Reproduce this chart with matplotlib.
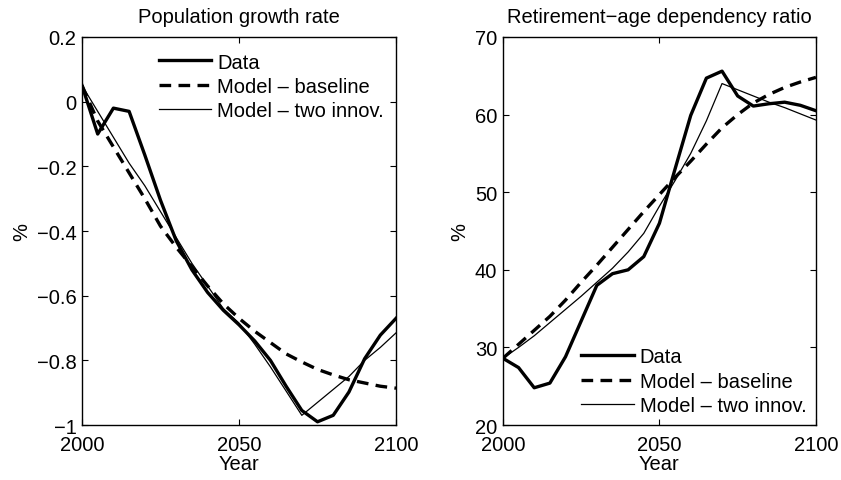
import matplotlib
matplotlib.use("Agg")
import matplotlib.pyplot as plt

plt.rcParams['font.family'] = ['Liberation Sans', 'DejaVu Sans']

years = [2000, 2005, 2010, 2015, 2020, 2025, 2030, 2035, 2040, 2045, 2050,
         2055, 2060, 2065, 2070, 2075, 2080, 2085, 2090, 2095, 2100]

# Population growth rate (%)
pop_data = [0.05, -0.10, -0.02, -0.03, -0.165, -0.305, -0.43, -0.52, -0.59, -0.645, -0.69,
            -0.74, -0.80, -0.88, -0.955, -0.99, -0.97, -0.898, -0.795, -0.722, -0.67]
pop_base = [0.05, -0.06, -0.14, -0.22, -0.30, -0.385, -0.45, -0.51, -0.57, -0.625, -0.67,
            -0.71, -0.745, -0.78, -0.805, -0.828, -0.845, -0.86, -0.87, -0.88, -0.886]
pop_two = [0.05, -0.03, -0.11, -0.19, -0.26, -0.34, -0.42, -0.50, -0.57, -0.64, -0.685,
           -0.75, -0.82, -0.895, -0.97, -0.93, -0.89, -0.85, -0.80, -0.76, -0.715]

# Retirement-age dependency ratio (%)
dep_data = [28.6, 27.4, 24.8, 25.4, 28.8, 33.4, 38.0, 39.5, 40.0, 41.7, 46.0,
            53.0, 59.9, 64.7, 65.6, 62.4, 61.1, 61.4, 61.6, 61.2, 60.5]
dep_base = [28.6, 30.4, 32.2, 34.0, 36.1, 38.4, 40.6, 42.9, 45.2, 47.5, 49.7,
            51.9, 54.0, 56.2, 58.3, 60.0, 61.5, 62.6, 63.5, 64.2, 64.8]
dep_two = [28.6, 30.0, 31.5, 33.2, 34.9, 36.6, 38.4, 40.2, 42.3, 44.7, 48.2,
           51.5, 55.0, 59.2, 64.0, 63.2, 62.4, 61.6, 60.9, 60.1, 59.3]

labels = ['Data', 'Model \u2013 baseline', 'Model \u2013 two innov.']
titles = ['Population growth rate', 'Retirement\u2212age dependency ratio']

x_ticks = [2000, 2050, 2100]
pop_yticks = [0.2, 0, -0.2, -0.4, -0.6, -0.8, -1]
pop_yticklabels = ['0.2', '0', '\u22120.2', '\u22120.4', '\u22120.6', '\u22120.8', '\u22121']
dep_yticks = [20, 30, 40, 50, 60, 70]

FS = 14.5

fig = plt.figure(figsize=(8.41, 4.81), dpi=100)
ax1 = fig.add_axes([0.0975, 0.1143, 0.3734, 0.8067])
ax2 = fig.add_axes([0.598, 0.1143, 0.3722, 0.8067])

def draw(ax, d, b, t):
    ax.plot(years, d, color='black', lw=2.4, label=labels[0])
    ax.plot(years, b, color='black', lw=2.4, dashes=(3.5, 2.2), label=labels[1])
    ax.plot(years, t, color='black', lw=0.9, label=labels[2])
    ax.set_xlim(2000, 2100)
    ax.set_xticks(x_ticks)
    ax.set_xticklabels([str(v) for v in x_ticks])
    ax.tick_params(direction='in', top=True, right=True, length=4, width=0.8,
                   labelsize=FS)
    ax.tick_params(axis='x', pad=7)
    ax.tick_params(axis='y', pad=4)
    for s in ax.spines.values():
        s.set_linewidth(1.0)
    ax.set_xlabel('Year', fontsize=FS, labelpad=0)
    ax.set_ylabel('%', fontsize=FS, labelpad=4)

draw(ax1, pop_data, pop_base, pop_two)
ax1.set_ylim(-1, 0.2)
ax1.set_yticks(pop_yticks)
ax1.set_yticklabels(pop_yticklabels)
ax1.set_title(titles[0], fontsize=FS, pad=11)
ax1.legend(frameon=False, fontsize=FS, loc='upper left', bbox_to_anchor=(0.245, 0.96),
           borderpad=0, borderaxespad=0, handlelength=2.6, handletextpad=0.3,
           labelspacing=0.27)

draw(ax2, dep_data, dep_base, dep_two)
ax2.set_ylim(20, 70)
ax2.set_yticks(dep_yticks)
ax2.set_yticklabels([str(v) for v in dep_yticks])
ax2.set_title(titles[1], fontsize=FS, pad=11)
ax2.legend(frameon=False, fontsize=FS, loc='lower left', bbox_to_anchor=(0.25, 0.025),
           borderpad=0, borderaxespad=0, handlelength=2.6, handletextpad=0.3,
           labelspacing=0.27)

fig.savefig('out.png', dpi=100)
